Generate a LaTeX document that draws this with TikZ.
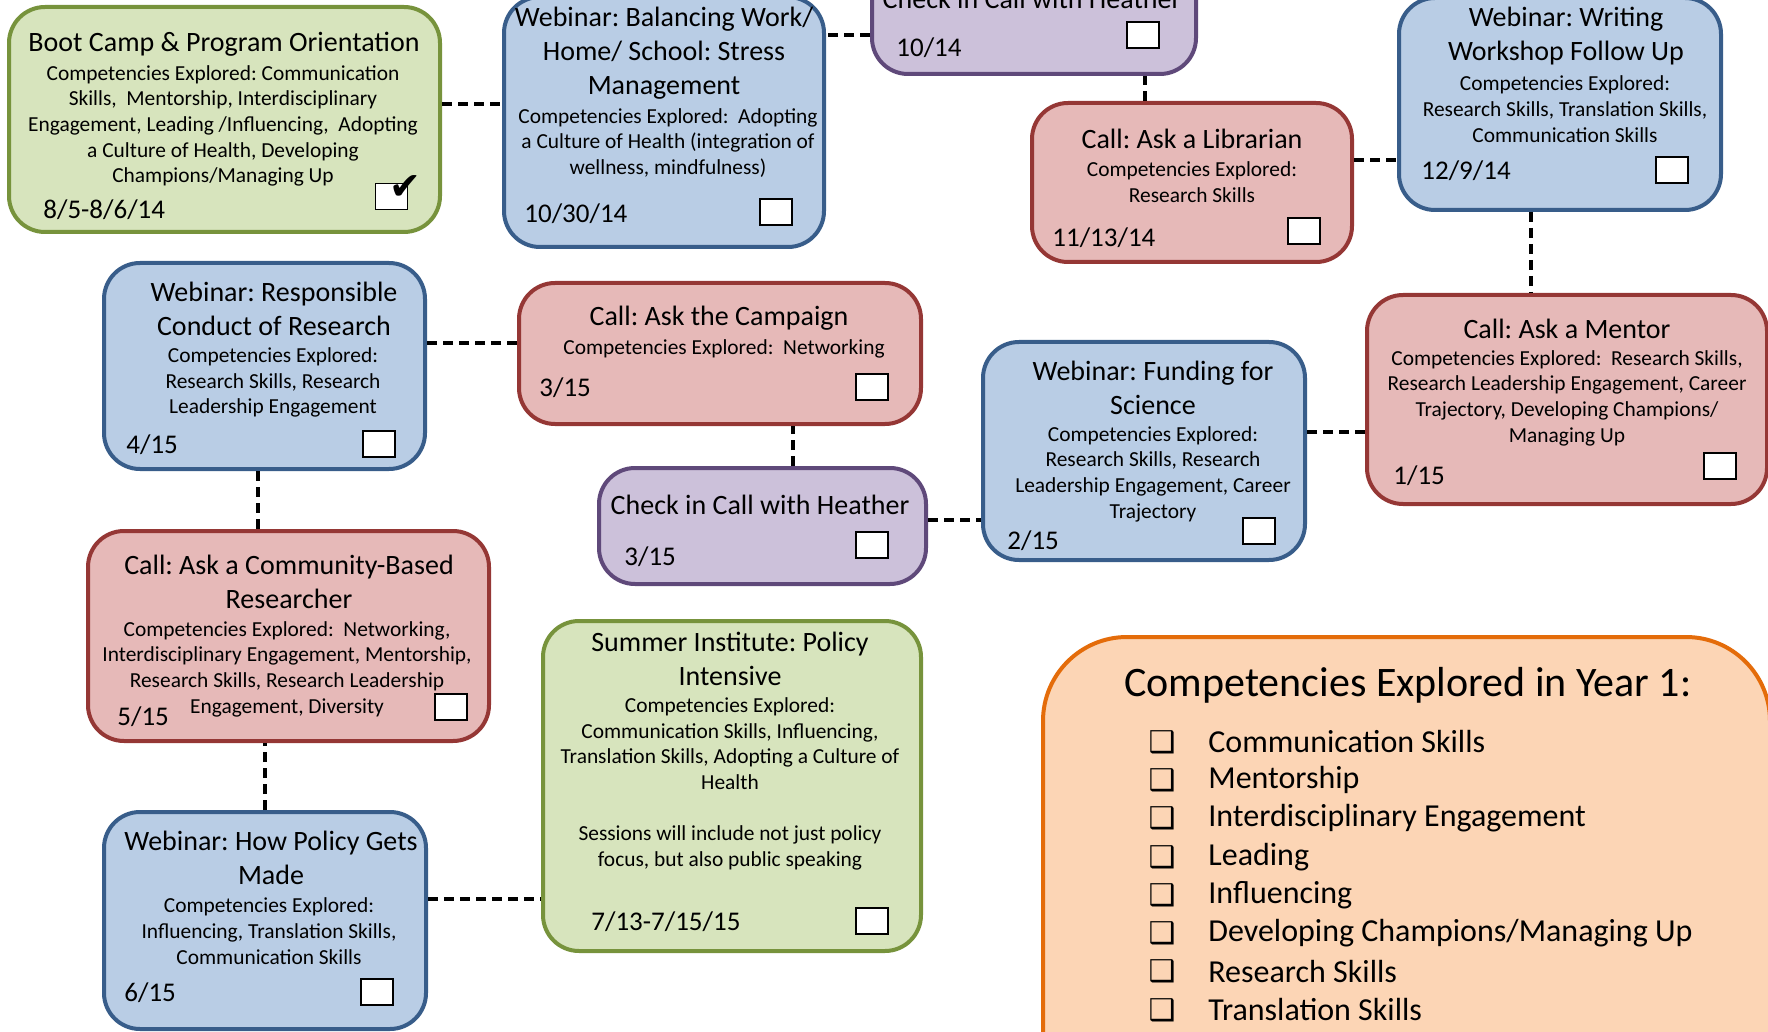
\documentclass[tikz,border=0pt]{standalone}
\usepackage{fontspec}
\setmainfont{Carlito}
\newfontfamily\dingfont{DejaVu Sans}
\usetikzlibrary{fit}
\frenchspacing

\definecolor{webfill}{HTML}{B9CDE5}
\definecolor{webline}{HTML}{385D8A}
\definecolor{callfill}{HTML}{E6B9B8}
\definecolor{callline}{HTML}{953735}
\definecolor{chkfill}{HTML}{CCC1DA}
\definecolor{chkline}{HTML}{5F497A}
\definecolor{campfill}{HTML}{D7E4BD}
\definecolor{campline}{HTML}{77933C}
\definecolor{keyfill}{HTML}{FCD5B5}
\definecolor{keyline}{HTML}{E46C0A}

\tikzset{
  card/.style={line width=2pt, rounded corners=18pt, inner sep=0pt},
  webinar/.style={card, draw=webline, fill=webfill},
  call/.style={card, draw=callline, fill=callfill},
  checkin/.style={card, draw=chkline, fill=chkfill},
  institute/.style={card, draw=campline, fill=campfill},
  head/.style={font=\fontsize{14}{17}\selectfont, align=center, inner sep=0pt},
  body/.style={font=\fontsize{10.7}{12.85}\selectfont, align=center, inner sep=0pt},
  when/.style={font=\fontsize{13.5}{16}\selectfont, anchor=west, inner sep=0pt},
  tickbox/.style={draw, fill=white, line width=0.6pt, minimum width=16pt, minimum height=13pt, inner sep=0pt},
  link/.style={line width=2pt, dash pattern=on 5pt off 3pt}
}

\begin{document}
\begin{tikzpicture}[x=0.5pt, y=-0.5pt]
\useasboundingbox (0,0) rectangle (1768,1032);

% cards
\node[institute, fit={(9,7) (440,232)}] (boot) {};
\node[webinar, fit={(504,-3) (824,247)}] (bal) {};
\node[checkin, fit={(872,-40) (1196,74)}] (chk1) {};
\node[call, fit={(1032,103) (1352,262)}] (lib) {};
\node[webinar, fit={(1399,-2) (1721,210)}] (write) {};
\node[webinar, fit={(104,263) (425,469)}] (resp) {};
\node[call, fit={(519,283) (921,424)}] (camp) {};
\node[call, fit={(1367,295) (1767,504)}] (mentor) {};
\node[webinar, fit={(983,342) (1305,560)}] (fund) {};
\node[checkin, fit={(599,468) (926,584)}] (chk2) {};
\node[call, fit={(88,531) (489,741)}] (comm) {};
\node[institute, fit={(543,621) (921,951)}] (summer) {};
\node[webinar, fit={(104,812) (426,1029)}] (policy) {};
\node[card, rounded corners=42pt, draw=keyline, fill=keyfill, fit={(1043,637) (1770,1120)}] (key) {};

% connectors
\draw[link] ([yshift=7.75pt]boot.east) -- ([yshift=7.75pt]boot.east -| bal.west);
\draw[link] ([yshift=-9pt]chk1.west) -- ([yshift=-9pt]chk1.west -| bal.east);
\draw[link] ([xshift=-23.5pt]lib.north) -- ([xshift=-23.5pt]lib.north |- chk1.south);
\draw[link] ([yshift=11.25pt]lib.east) -- ([yshift=11.25pt]lib.east -| write.west);
\draw[link] ([xshift=-14.5pt]write.south) -- ([xshift=-14.5pt]write.south |- mentor.north);
\draw[link] ([yshift=-16.25pt]mentor.west) -- ([yshift=-16.25pt]mentor.west -| fund.east);
\draw[link] ([yshift=3pt]chk2.east) -- ([yshift=3pt]chk2.east -| fund.west);
\draw[link] ([xshift=15.25pt]chk2.north) -- ([xshift=15.25pt]chk2.north |- camp.south);
\draw[link] ([yshift=5.25pt]camp.west) -- ([yshift=5.25pt]camp.west -| resp.east);
\draw[link] ([xshift=-3.25pt]resp.south) -- ([xshift=-3.25pt]resp.south |- comm.north);
\draw[link] (policy.north) -- (policy.north |- comm.south);
\draw[link] ([yshift=10.75pt]policy.east) -- ([yshift=10.75pt]policy.east -| summer.west);

% boot camp
\node[head] (bootT) at (224,44) {Boot Camp \& Program Orientation};
\node[body] (bootB) at (223,126) {Competencies Explored: Communication\\Skills,\ \ Mentorship, Interdisciplinary\\Engagement, Leading /Influencing,\ \ Adopting\\a Culture of Health, Developing\\Champions/Managing Up};
\node[when] (bootD) at (43,210) {8/5-8/6/14};
\node[tickbox] (bootX) at (391.5,196.5) {};
\node[font=\dingfont\fontsize{19}{19}\selectfont, inner sep=0pt] (bootV) at (405,188) {✔};

% balancing
\node[head] (balT) at (664,53) {Webinar: Balancing Work/\\Home/ School: Stress\\Management};
\node[body] (balB) at (668,143) {Competencies Explored:\ \ Adopting\\a Culture of Health (integration of\\wellness, mindfulness)};
\node[when] (balD) at (524,214) {10/30/14};
\node[tickbox] (balX) at (776,212) {};

% check in 10/14
\node[head] (chk1T) at (1032,-1) {Check in Call with Heather};
\node[when] (chk1D) at (896,48) {10/14};
\node[tickbox] (chk1X) at (1143,35) {};

% librarian
\node[head] (libT) at (1192,139) {Call: Ask a Librarian};
\node[body] (libB) at (1192,182.5) {Competencies Explored:\\Research Skills};
\node[when] (libD) at (1052,238) {11/13/14};
\node[tickbox] (libX) at (1304,231) {};

% writing
\node[head] (writeT) at (1566,36) {Webinar: Writing\\Workshop Follow Up};
\node[body] (writeB) at (1565,109) {Competencies Explored:\\Research Skills, Translation Skills,\\Communication Skills};
\node[when] (writeD) at (1421,171) {12/9/14};
\node[tickbox] (writeX) at (1672,170) {};

% responsible conduct
\node[head] (respT) at (274,309) {Webinar: Responsible\\Conduct of Research};
\node[body] (respB) at (273,382.5) {Competencies Explored:\\Research Skills, Research\\Leadership Engagement};
\node[when] (respD) at (126,445) {4/15};
\node[tickbox] (respX) at (379,444) {};

% campaign
\node[head] (campT) at (719,318.5) {Call: Ask the Campaign};
\node[body] (campB) at (724,348.5) {Competencies Explored:\ \ Networking};
\node[when] (campD) at (539,388) {3/15};
\node[tickbox] (campX) at (872,387) {};

% mentor
\node[head] (mentorT) at (1567,329) {Call: Ask a Mentor};
\node[body] (mentorB) at (1567,398) {Competencies Explored:\ \ Research Skills,\\Research Leadership Engagement, Career\\Trajectory, Developing Champions/\\Managing Up};
\node[when] (mentorD) at (1393,476) {1/15};
\node[tickbox] (mentorX) at (1720,466) {};

% funding
\node[head] (fundT) at (1153,388) {Webinar: Funding for\\Science};
\node[body] (fundB) at (1153,474) {Competencies Explored:\\Research Skills, Research\\Leadership Engagement, Career\\Trajectory};
\node[when] (fundD) at (1007,541) {2/15};
\node[tickbox] (fundX) at (1259,531) {};

% check in 3/15
\node[head] (chk2T) at (760,505) {Check in Call with Heather};
\node[when] (chk2D) at (624,557) {3/15};
\node[tickbox] (chk2X) at (872,545) {};

% community-based
\node[head] (commT) at (289,582) {Call: Ask a Community-Based\\Researcher};
\node[body] (commB) at (287,669) {Competencies Explored:\ \ Networking,\\Interdisciplinary Engagement, Mentorship,\\Research Skills, Research Leadership\\Engagement, Diversity};
\node[when] (commD) at (117,717) {5/15};
\node[tickbox] (commX) at (451,707) {};

% summer institute
\node[head] (summerT) at (730,659) {Summer Institute: Policy\\Intensive};
\node[body] (summerB) at (730,784) {Competencies Explored:\\Communication Skills, Influencing,\\Translation Skills, Adopting a Culture of\\Health\\[12.85pt]Sessions will include not just policy\\focus, but also public speaking};
\node[when] (summerD) at (591,922) {7/13-7/15/15};
\node[tickbox] (summerX) at (872,921) {};

% policy
\node[head] (policyT) at (271,858) {Webinar: How Policy Gets\\Made};
\node[body] (policyB) at (269,931) {Competencies Explored:\\Influencing, Translation Skills,\\Communication Skills};
\node[when] (policyD) at (124,993) {6/15};
\node[tickbox] (policyX) at (377,992) {};

% competencies list
\node[font=\fontsize{21}{25}\selectfont, inner sep=0pt] (keyT) at (1408,685) {Competencies Explored in Year 1:};
\foreach \comp [count=\i] in {Communication Skills, Mentorship, Interdisciplinary Engagement, Leading, Influencing, Developing Champions/Managing Up, Research Skills, Translation Skills} {
  \node[font=\dingfont\bfseries\fontsize{15}{15}\selectfont, inner sep=0pt] (keyQ\i) at (1162,{703.6+38.3*\i}) {❑};
  \node[font=\fontsize{16}{19}\selectfont, anchor=west, inner sep=0pt] (keyL\i) at (1208,{703.6+38.3*\i}) {\comp};
}
\end{tikzpicture}
\end{document}
